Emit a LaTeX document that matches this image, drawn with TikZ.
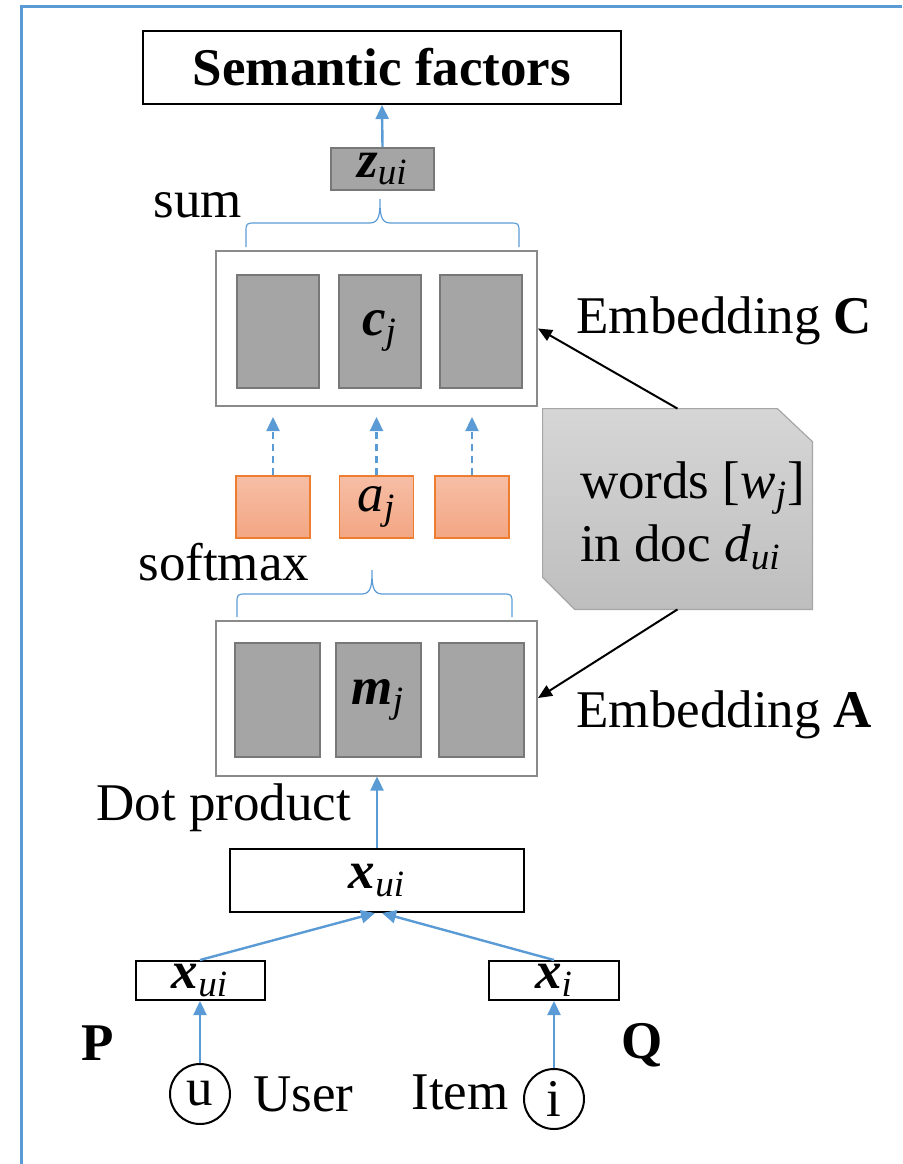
\documentclass[tikz,border=0pt]{standalone}
\usepackage{fontspec}
\setmainfont{Liberation Serif}
\usepackage{tikz}
\usetikzlibrary{arrows.meta,positioning}
\definecolor{flowblue}{HTML}{5B9BD5}
\definecolor{cellgray}{HTML}{A5A5A5}
\definecolor{celledge}{HTML}{787878}
\definecolor{holdergray}{HTML}{8A8A8A}
\definecolor{attnedge}{HTML}{ED7D31}
\definecolor{attntop}{HTML}{F6BEA6}
\definecolor{attnbot}{HTML}{F3A683}
\definecolor{doctop}{HTML}{D6D6D6}
\definecolor{docbot}{HTML}{BEBEBE}
\definecolor{docedge}{HTML}{A6A6A6}
% bold italic vector / italic scalar with italic index
\newcommand{\bvar}[2]{\textbf{\textit{#1}}\textsubscript{\textit{#2}}}
\newcommand{\ivar}[2]{\textit{#1}\textsubscript{\textit{#2}}}

\begin{document}
\begin{tikzpicture}[x=0.5pt,y=-0.5pt,
  font=\fontsize{26.5}{31.5}\selectfont,
  box/.style={draw=black,line width=1pt,fill=white,inner sep=0pt},
  cell/.style={draw=celledge,line width=1pt,fill=cellgray,minimum width=41pt,minimum height=56.5pt,inner sep=0pt},
  holder/.style={draw=holdergray,line width=1pt,fill=white,minimum width=160.5pt,minimum height=77.5pt,inner sep=0pt},
  weight/.style={draw=attnedge,line width=0.75pt,top color=attntop,bottom color=attnbot,minimum width=37pt,minimum height=31pt,inner sep=0pt},
  port/.style={circle,draw=black,line width=1pt,minimum size=30pt,inner sep=0pt},
  flow/.style={flowblue,line width=1.2pt,-{Triangle[length=7pt,width=6.5pt]}},
  feed/.style={black,line width=1pt,-{Triangle[length=7pt,width=6pt]}},
  grouping/.style={flowblue,line width=0.6pt},
  lbl/.style={inner sep=0pt,anchor=base west}]
\useasboundingbox (0,0) rectangle (902,1164);
% frame
\draw[flowblue,line width=1.5pt] (21,1164) -- (21,6) -- (902,6);

% output
\node[box,minimum width=239pt,minimum height=36.5pt,font=\fontsize{26.5}{31.5}\selectfont\bfseries] (sem) at (382,67.5) {Semantic factors};
\node[draw=celledge,line width=1pt,fill=cellgray,minimum width=51.5pt,minimum height=21pt,inner sep=0pt] (zui) at (382.5,169) {\bvar{z}{ui}};
\draw[flow] (zui.north) -- (sem.south);

% output memory (embedding C)
\draw[grouping] (246,247) -- (246,233) .. controls (246,223) .. (256,223) -- (370,223)
  .. controls (380,223) and (380,212) .. (380,199) .. controls (380,212) and (380,223) .. (390,223)
  -- (509,223) .. controls (519,223) .. (519,233) -- (519,247);
\node[lbl] at (153,217) {sum};
\node[holder] (cbox) at (376.5,328.5) {};
\foreach \k/\xc/\txt in {1/278/{},2/379.5/{\bvar{c}{j}},3/480.5/{}}
  \node[cell] (c\k) at (\xc,331) {\txt};
\node[lbl] at (576,333) {Embedding \textbf{C}};

% attention weights
\foreach \k/\xc/\txt in {1/273/{},2/376.5/{\textit{a}\textsubscript{\textit{j}}},3/472/{}}{
  \node[weight] (a\k) at (\xc,507) {\txt};
  \draw[flow,dash pattern=on 3.5pt off 2.5pt,shorten >=5pt] (a\k.north) -- (a\k.north |- cbox.south);
}
\draw[grouping] (237,617) -- (237,604) .. controls (237,594) .. (247,594) -- (362,594)
  .. controls (372,594) and (372,583) .. (372,570) .. controls (372,583) and (372,594) .. (382,594)
  -- (502,594) .. controls (512,594) .. (512,604) -- (512,617);
\node[lbl] at (138,580) {softmax};

% input memory (embedding A)
\node[holder] (mbox) at (376.5,698) {};
\foreach \k/\xc/\txt in {1/277.5/{},2/378/{\bvar{m}{j}},3/481/{}}
  \node[cell,minimum width=42.5pt,minimum height=57pt] (m\k) at (\xc,700) {\txt};
\node[lbl] at (576,727) {Embedding \textbf{A}};

% document words: box with two clipped corners
\node[minimum width=134.5pt,minimum height=100pt,inner sep=0pt] (doc) at (677.5,509) {};
\draw[docedge,line width=0.6pt,top color=doctop,bottom color=docbot]
  (doc.north west) -- ([xshift=-17.5pt]doc.north east) -- ([yshift=-16.5pt]doc.north east)
  -- (doc.south east) -- ([xshift=16pt]doc.south west) -- ([yshift=16pt]doc.south west) -- cycle;
\node[anchor=west,align=left,inner sep=0pt] (words) at ([xshift=18.5pt,yshift=-3.5pt]doc.west)
  {words [\ivar{w}{j}]\\in doc \ivar{d}{ui}};
\draw[feed] (doc.north) -- (cbox.east);
\draw[feed] (doc.south) -- (mbox.east);

% query
\node[box,minimum width=147pt,minimum height=31.5pt] (xui) at (377,880.5) {\bvar{x}{ui}};
\draw[flow] (xui.north) -- (xui.north |- mbox.south);
\node[lbl] at (96,820) {Dot product};

% user and item factors
\node[box,minimum width=64.5pt,minimum height=19.5pt] (xu) at (200,980.5) {\bvar{x}{ui}};
\node[box,minimum width=65pt,minimum height=19.5pt] (xi) at (554,980.5) {\bvar{x}{i}};
\draw[flow] (xu.north) -- ([xshift=-1pt]xui.south);
\draw[flow] (xi.north) -- ([xshift=2.5pt]xui.south);
\node[inner sep=0pt,font=\fontsize{26.5}{31.5}\selectfont\bfseries] at (98,1043) {P};
\node[inner sep=0pt,font=\fontsize{26.5}{31.5}\selectfont\bfseries] at (642,1045) {Q};

\node[port] (u) at (200,1094) {u};
\node[port] (i) at (554,1099) {i};
\draw[flow] (u.north) -- (xu.south);
\draw[flow] (i.north) -- (xi.south);
\node[inner sep=0pt,right=11pt of u] (user) {User};
\node[inner sep=0pt,left=7pt of i,yshift=3.5pt] (item) {Item};
\end{tikzpicture}
\end{document}
